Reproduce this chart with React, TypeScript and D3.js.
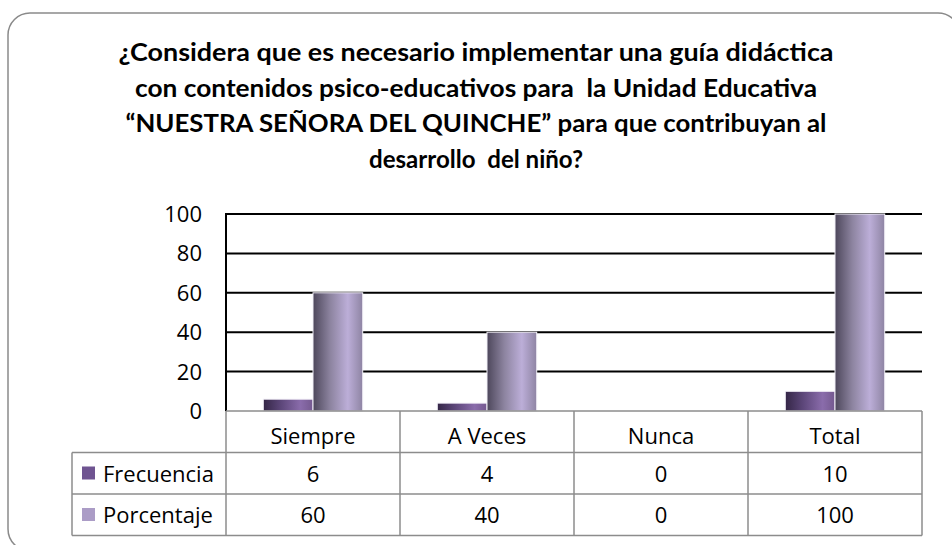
import React from "react";
import { scaleBand, scaleLinear } from "d3";

const titleLines = [
  "¿Considera que es necesario implementar una guía didáctica",
  "con contenidos psico-educativos para  la Unidad Educativa",
  "“NUESTRA SEÑORA DEL QUINCHE” para que contribuyan al",
  "desarrollo  del niño?",
];
// approximate rendered widths of each title line in the reference
const titleWidths = [715, 682, 701, 214];

const categories = ["Siempre", "A Veces", "Nunca", "Total"];
const seriesNames = ["Frecuencia", "Porcentaje"];
const frecuencia = [6, 4, 0, 10];
const porcentaje = [60, 40, 0, 100];
const yTicks = [0, 20, 40, 60, 80, 100];

const seriesValues = [frecuencia, porcentaje];
const seriesColors = ["#6f5491", "#ab9cc6"];

const FONT = "'Open Sans', Lato, sans-serif";

export default function App() {
  const W = 952;
  const H = 545;
  const plot = { left: 226, right: 922, top: 214, bottom: 411 };
  const rowH = 41.5;
  const tableLeft = 72;

  const x = scaleBand<string>()
    .domain(categories)
    .range([plot.left, plot.right]);

  // excel style: gap width 150% -> group of two bars fills 2/3.5 of the band
  const inner = scaleBand<string>()
    .domain(seriesNames)
    .range([0, (x.bandwidth() * 2) / 3.5]);
  const groupOffset = (x.bandwidth() - inner.range()[1]) / 2;

  const y = scaleLinear().domain([0, 100]).range([plot.bottom, plot.top]);

  const headerBottom = plot.bottom + rowH;
  const rowsY = [headerBottom, headerBottom + rowH, headerBottom + 2 * rowH];

  return (
    <svg
      width={W}
      height={H}
      style={{ position: "absolute", left: 0, top: 0, background: "#fff" }}
      fontFamily={FONT}
    >
      <defs>
        <linearGradient id="grad0" x1="0" x2="1" y1="0" y2="0">
          <stop offset="0" stopColor="#342646" />
          <stop offset="0.35" stopColor="#5c4679" />
          <stop offset="0.75" stopColor="#8a6cab" />
          <stop offset="1" stopColor="#74598f" />
        </linearGradient>
        <linearGradient id="grad1" x1="0" x2="1" y1="0" y2="0">
          <stop offset="0" stopColor="#4d475b" />
          <stop offset="0.35" stopColor="#8d84a0" />
          <stop offset="0.7" stopColor="#bcaed8" />
          <stop offset="1" stopColor="#8e84a3" />
        </linearGradient>
      </defs>

      <rect
        x={8}
        y={13}
        width={952}
        height={538}
        rx={22}
        fill="#fff"
        stroke="#8a8a8a"
        strokeWidth={1.5}
      />

      {titleLines.map((t, i) => (
        <text
          key={i}
          x={476}
          y={61 + i * 35.6}
          textAnchor="middle"
          fontSize={24}
          fontWeight="bold"
          fontFamily="Lato, sans-serif"
          fill="#000"
          textLength={titleWidths[i]}
          lengthAdjust="spacingAndGlyphs"
          style={{ whiteSpace: "pre" }}
        >
          {t}
        </text>
      ))}

      {/* gridlines */}
      {yTicks
        .filter((t) => t > 0)
        .map((t) => (
          <line
            key={t}
            x1={plot.left}
            x2={plot.right}
            y1={y(t)}
            y2={y(t)}
            stroke="#000"
            strokeWidth={2}
          />
        ))}

      {/* y tick labels */}
      {yTicks.map((t) => (
        <text
          key={t}
          x={202}
          y={y(t) + 8}
          textAnchor="end"
          fontSize={22}
          fill="#000"
        >
          {t}
        </text>
      ))}

      {/* bars */}
      {categories.map((c, ci) => (
        <g key={c}>
          {seriesNames.map((s, si) => {
            const v = seriesValues[si][ci];
            if (v <= 0) return null;
            const bx = (x(c) as number) + groupOffset + (inner(s) as number);
            return (
              <rect
                key={s}
                x={bx}
                y={y(v)}
                width={inner.bandwidth()}
                height={y(0) - y(v)}
                fill={`url(#grad${si})`}
                stroke="#f2eff7"
                strokeWidth={1}
              />
            );
          })}
        </g>
      ))}

      {/* y axis */}
      <line
        x1={plot.left}
        x2={plot.left}
        y1={plot.top - 1}
        y2={plot.bottom}
        stroke="#000"
        strokeWidth={2}
      />

      {/* data table */}
      <g stroke="#8c8c8c" strokeWidth={1.5}>
        <line x1={plot.left} x2={plot.right} y1={plot.bottom} y2={plot.bottom} />
        {rowsY.map((ry, i) => (
          <line key={i} x1={tableLeft} x2={plot.right} y1={ry} y2={ry} />
        ))}
        <line x1={tableLeft} x2={tableLeft} y1={headerBottom} y2={rowsY[2]} />
        {categories.map((c) => (
          <line
            key={c}
            x1={x(c) as number}
            x2={x(c) as number}
            y1={plot.bottom}
            y2={rowsY[2]}
          />
        ))}
        <line x1={plot.right} x2={plot.right} y1={plot.bottom} y2={rowsY[2]} />
      </g>

      {categories.map((c) => (
        <text
          key={c}
          x={(x(c) as number) + x.bandwidth() / 2}
          y={plot.bottom + 33}
          textAnchor="middle"
          fontSize={22}
          fill="#000"
        >
          {c}
        </text>
      ))}

      {seriesNames.map((s, si) => (
        <g key={s}>
          <rect
            x={82}
            y={rowsY[si] + 14}
            width={13}
            height={13}
            fill={seriesColors[si]}
          />
          <text x={103} y={rowsY[si] + 29} fontSize={22} fill="#000">
            {s}
          </text>
          {categories.map((c, ci) => (
            <text
              key={c}
              x={(x(c) as number) + x.bandwidth() / 2}
              y={rowsY[si] + 29}
              textAnchor="middle"
              fontSize={22}
              fill="#000"
            >
              {seriesValues[si][ci]}
            </text>
          ))}
        </g>
      ))}
    </svg>
  );
}
